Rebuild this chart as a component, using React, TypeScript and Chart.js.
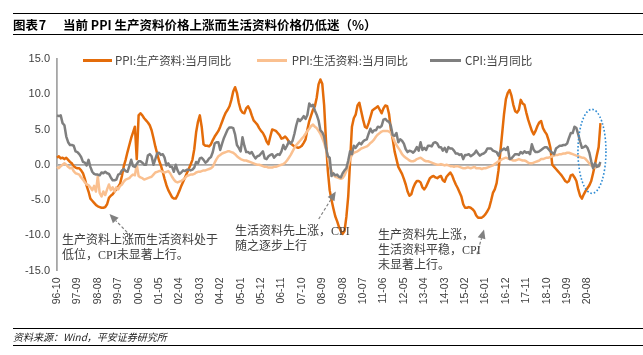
import React, { useEffect, useRef } from "react";
import { Chart, registerables } from "chart.js";

Chart.register(...registerables);

// Monthly data, 1996-10 .. 2021-03
const START_YEAR = 1996;
const START_MONTH = 10;

// PPI: 生产资料: 当月同比 (%)
const PPI_PRODUCER = [
  1.0, 1.2, 0.9,
  1.0, 0.8, 1.0, 0.7, 0.4, 0.2, -0.2, -0.4, -0.5, -0.5, -0.8, -1.2,
  -2.0, -3.0, -3.8, -4.8, -5.1, -5.4, -5.7, -5.9, -6.0, -6.1, -6.1, -6.0,
  -5.6, -4.7, -4.4, -4.2, -3.8, -3.5, -3.1, -2.7, -1.6, -0.2, 0.7, 1.8,
  2.8, 3.8, 4.6, 5.4, 0.8, 7.0, 7.3, 7.0, 6.6, 6.3, 6.0, 5.6,
  4.9, 3.8, 2.6, 1.6, 0.6, -0.1, -1.0, -2.0, -2.9, -3.6, -4.1, -4.6,
  -4.8, -4.8, -4.3, -3.7, -3.0, -2.4, -1.8, -1.2, -0.6, 0.0, 0.7, 2.2,
  4.6, 6.1, 7.0, 5.4, 2.9, 2.7, 2.7, 2.6, 2.9, 3.5, 4.0, 4.4,
  4.8, 5.4, 6.1, 6.8, 7.4, 7.8, 8.3, 9.2, 10.4, 11.0, 10.2, 8.8,
  7.8, 7.4, 7.3, 8.0, 8.3, 7.8, 7.0, 6.3, 6.0, 5.7, 5.2, 4.8,
  4.5, 4.0, 3.3, 2.9, 4.0, 5.0, 4.9, 4.8, 4.5, 4.2, 3.7, 3.8,
  4.0, 3.7, 3.3, 3.0, 2.8, 2.6, 2.5, 2.4, 2.5, 2.7, 3.1, 3.6,
  5.0, 6.2, 7.0, 7.8, 8.3, 9.5, 11.4, 12.1, 11.5, 8.5, 3.5, -0.8,
  -3.6, -5.0, -6.2, -7.3, -8.0, -8.8, -9.4, -9.8, -9.4, -7.4, -4.5, 0.5,
  5.4, 6.6, 7.1, 8.4, 8.8, 7.6, 6.4, 5.4, 5.2, 5.9, 6.8, 7.7,
  7.9, 8.1, 8.3, 7.8, 7.3, 8.0, 8.4, 8.3, 7.2, 5.0, 3.6, 1.9,
  0.8, -0.3, -0.8, -1.3, -2.0, -2.8, -3.8, -4.4, -4.2, -3.3, -2.7, -2.3,
  -2.3, -2.5, -3.2, -3.5, -3.1, -2.5, -1.9, -1.7, -1.6, -1.8, -1.9, -1.7,
  -1.6, -2.2, -2.4, -1.7, -1.4, -1.1, -1.5, -2.2, -2.8, -3.3, -3.9, -4.5,
  -5.6, -6.1, -6.1, -6.0, -6.1, -6.3, -6.6, -7.2, -7.5, -7.5, -7.5, -7.3,
  -7.0, -6.6, -6.1, -5.1, -4.0, -3.5, -2.6, -0.8, 1.8, 4.5, 7.2, 9.3,
  10.2, 10.6, 9.8, 8.5, 7.6, 7.4, 7.8, 9.2, 8.7, 8.5, 7.4, 6.4,
  5.6, 4.8, 4.3, 4.8, 5.5, 6.0, 6.2, 5.2, 4.7, 4.3, 3.5, 2.4,
  0.0, -0.3, -0.6, -0.9, -1.2, -1.5, -1.9, -2.3, -2.5, -2.3, -1.5, -1.4,
  -1.8, -2.3, -3.5, -4.4, -4.8, -4.2, -3.7, -3.3, -2.9, -2.3, -1.2, 0.0,
  1.3, 2.5, 5.9,
];

// PPI: 生活资料: 当月同比 (%)
const PPI_CONSUMER = [
  -0.3, -0.5, -0.2,
  0.0, 0.2, 0.0, -0.3, -0.5, -0.4, -0.9, -1.2, -1.3, -1.4, -1.8, -2.1,
  -2.5, -2.8, -2.9, -3.2, -3.6, -3.0, -3.8, -1.6, -4.0, -4.5, -3.8, -4.3,
  -3.5, -2.8, -3.6, -3.2, -3.8, -3.2, -3.5, -3.0, -2.8, -2.4, -2.1, -2.0,
  -1.9, -1.6, -1.4, -1.5, 0.0, -1.6, -1.8, -1.9, -2.1, -2.0, -1.9, -1.8,
  -1.7, -1.4, -1.1, -1.0, -0.9, -0.9, -1.0, -1.1, -1.0, -0.9, -1.2, -1.7,
  -2.1, -2.4, -2.5, -2.4, -2.3, -2.1, -1.9, -1.6, -1.5, -1.4, -1.4, -1.3,
  -1.1, -1.0, -1.0, -0.9, -0.8, -0.8, -0.7, -0.6, -0.5, -0.3, 0.3, 0.8,
  1.2, 1.4, 1.6, 1.7, 1.8, 1.9, 1.9, 1.8, 1.7, 1.5, 1.2, 1.0,
  0.8, 0.7, 0.6, 0.6, 0.5, 0.4, 0.3, 0.2, 0.1, 0.0, 0.0, -0.1,
  -0.2, -0.3, -0.3, -0.4, -0.4, -0.4, -0.3, -0.3, -0.2, -0.1, 0.0, 0.1,
  0.3, 0.6, 1.0, 1.4, 1.9, 2.4, 2.8, 3.1, 3.4, 3.7, 4.0, 4.4,
  4.8, 5.1, 5.5, 5.7, 5.4, 5.2, 4.8, 4.4, 3.8, 3.1, 2.2, 1.3,
  -0.2, -0.9, -1.4, -1.7, -1.8, -1.9, -2.0, -1.9, -1.5, -0.9, -0.1, 0.8,
  1.4, 1.7, 1.8, 1.9, 2.1, 2.3, 2.4, 2.5, 2.6, 2.8, 3.1, 3.3,
  3.6, 4.0, 4.3, 4.5, 4.7, 4.8, 4.8, 4.8, 4.7, 4.5, 4.0, 3.3,
  2.8, 2.4, 2.0, 1.5, 1.2, 1.0, 0.8, 0.6, 0.5, 0.5, 0.6, 0.8,
  0.9, 1.0, 0.8, 0.6, 0.5, 0.5, 0.4, 0.3, 0.2, 0.1, 0.0, 0.0,
  0.1, 0.0, -0.1, 0.0, -0.1, -0.2, -0.2, -0.3, -0.2, -0.2, -0.3, -0.4,
  -0.5, -0.5, -0.4, -0.4, -0.5, -0.4, -0.3, -0.5, -0.5, -0.5, -0.6, -0.5,
  -0.5, -0.4, -0.3, -0.2, -0.1, 0.1, 0.3, 0.5, 0.6, 0.8, 0.9, 1.0,
  0.9, 0.8, 0.7, 0.6, 0.6, 0.7, 0.8, 0.7, 0.6, 0.6, 0.5, 0.3,
  0.2, 0.2, 0.3, 0.4, 0.5, 0.6, 0.8, 0.8, 0.9, 1.0, 1.0, 1.1,
  1.2, 1.3, 1.4, 1.4, 1.5, 1.5, 1.6, 1.6, 1.7, 1.7, 1.6, 1.5,
  1.4, 1.3, 1.2, 1.1, 1.0, 1.0, 0.8, 0.5, 0.2, -0.1, -0.3, -0.4,
  -0.3, -0.2, 0.0,
];

// CPI: 当月同比 (%)
const CPI_YOY = [
  7.0, 6.9, 7.0,
  5.9, 5.6, 4.0, 3.2, 2.8, 2.8, 2.7, 1.9, 1.8, 1.5, 1.1, 0.4,
  0.3, -0.1, 0.7, -0.3, -1.0, -1.3, -1.4, -1.4, -1.5, -1.1, -1.2, -1.0,
  -1.2, -1.3, -1.8, -2.2, -2.2, -2.1, -1.4, -1.3, -0.8, -0.6, -0.9, -1.0,
  -0.2, 0.7, -0.2, -0.3, 0.1, 0.5, 0.5, 0.3, 0.0, 0.0, 1.3, 1.5,
  1.2, 0.0, 0.8, 1.6, 1.7, 1.4, 1.5, 1.0, -0.1, 0.2, -0.3, -0.3,
  -1.0, 0.0, -0.8, -1.3, -1.1, -0.8, -0.9, -0.7, -0.7, -0.8, -0.7, -0.4,
  0.4, 0.2, 0.9, 1.0, 0.7, 0.3, 0.5, 0.9, 1.1, 1.8, 3.0, 3.2,
  3.2, 2.1, 3.0, 3.8, 4.4, 5.0, 5.3, 5.3, 5.2, 4.3, 2.8, 2.4,
  1.9, 3.9, 2.7, 1.8, 1.8, 1.6, 1.8, 1.3, 0.9, 1.2, 1.3, 1.6,
  1.9, 0.9, 0.8, 1.2, 1.4, 1.5, 1.0, 1.3, 1.5, 1.4, 1.9, 2.8,
  2.2, 2.7, 3.3, 3.0, 3.4, 4.4, 5.6, 6.5, 6.2, 6.5, 6.9, 6.5,
  7.1, 8.7, 8.3, 8.5, 7.7, 7.1, 6.3, 4.9, 4.6, 4.0, 2.4, 1.2,
  1.0, -1.6, -1.2, -1.5, -1.4, -1.7, -1.8, -1.2, -0.8, -0.5, 0.6, 1.9,
  1.5, 2.7, 2.4, 2.8, 3.1, 2.9, 3.3, 3.5, 3.6, 4.4, 5.1, 4.6,
  4.9, 4.9, 5.4, 5.3, 5.5, 6.4, 6.5, 6.2, 6.1, 5.5, 4.2, 4.1,
  4.5, 3.2, 3.6, 3.4, 3.0, 2.2, 1.8, 2.0, 1.9, 1.7, 2.0, 2.5,
  2.0, 3.2, 2.1, 2.4, 2.1, 2.7, 2.7, 2.6, 3.1, 3.2, 3.0, 2.5,
  2.5, 2.0, 2.4, 1.8, 2.5, 2.3, 2.3, 2.0, 1.6, 1.6, 1.4, 1.5,
  0.8, 1.4, 1.4, 1.5, 1.2, 1.4, 1.6, 2.0, 1.6, 1.3, 1.5, 1.6,
  1.8, 2.3, 2.3, 2.3, 2.0, 1.9, 1.8, 1.3, 1.9, 2.1, 2.3, 2.1,
  2.5, 0.8, 0.9, 1.2, 1.5, 1.5, 1.4, 1.8, 1.6, 1.9, 1.7, 1.8,
  1.5, 2.9, 2.1, 1.8, 1.8, 1.9, 2.1, 2.3, 2.5, 2.5, 2.2, 1.9,
  1.7, 1.5, 2.3, 2.5, 2.7, 2.7, 2.8, 2.8, 3.0, 3.8, 4.5, 4.5,
  5.4, 5.2, 4.3, 3.3, 2.4, 2.5, 2.7, 2.4, 1.7, 0.5, -0.5, 0.2,
  -0.3, -0.2, 0.4,
];

const TICK_LABELS = [
  "96-10", "97-09", "98-08", "99-07", "00-06", "01-05", "02-04", "03-03",
  "04-02", "05-01", "05-12", "06-11", "07-10", "08-09", "09-08", "10-07",
  "11-06", "12-05", "13-04", "14-03", "15-02", "16-01", "16-12", "17-11",
  "18-10", "19-09", "20-08",
];

const SERIES_NAMES = ["PPI:生产资料:当月同比", "PPI:生活资料:当月同比", "CPI:当月同比"];

const CATEGORIES = CPI_YOY.map((_, i) => {
  const m = START_MONTH - 1 + i;
  const y = START_YEAR + Math.floor(m / 12);
  const mm = (m % 12) + 1;
  return `${String(y % 100).padStart(2, "0")}-${String(mm).padStart(2, "0")}`;
});
const TICK_SET = new Set(TICK_LABELS);

// Annotation anchors in data space: [category index, value]
const ARROWS = [
  { from: [39.7, -10.1], to: [28.3, -7.0] },
  { from: [141.1, -7.7], to: [150.3, -3.8] },
  { from: [226.4, -12.7], to: [230.2, -9.2] },
];
const HIGHLIGHT = { center: [288.4, 1.9], rx: 14, ry: 42 };

const ORANGE = "#E46C0A";
const PEACH = "#FAC090";
const GRAY = "#7F7F7F";
const AXIS_GRAY = "#A6A6A6";
const TEXT = "#404040";

const annotationPlugin = {
  id: "notes",
  afterDatasetsDraw(chart: any) {
    const { ctx, scales } = chart;
    const xs = scales.x;
    const ys = scales.y;
    ctx.save();
    ctx.strokeStyle = "#808080";
    ctx.fillStyle = "#808080";
    ctx.lineWidth = 1.2;
    for (const a of ARROWS) {
      const x1 = xs.getPixelForValue(a.from[0]);
      const y1 = ys.getPixelForValue(a.from[1]);
      const x2 = xs.getPixelForValue(a.to[0]);
      const y2 = ys.getPixelForValue(a.to[1]);
      const ang = Math.atan2(y2 - y1, x2 - x1);
      const headLen = 9;
      const bx = x2 - headLen * Math.cos(ang);
      const by = y2 - headLen * Math.sin(ang);
      ctx.setLineDash([3, 2]);
      ctx.beginPath();
      ctx.moveTo(x1, y1);
      ctx.lineTo(bx, by);
      ctx.stroke();
      ctx.setLineDash([]);
      ctx.beginPath();
      ctx.moveTo(x2, y2);
      ctx.lineTo(bx + 4 * Math.sin(ang), by - 4 * Math.cos(ang));
      ctx.lineTo(bx - 4 * Math.sin(ang), by + 4 * Math.cos(ang));
      ctx.closePath();
      ctx.fill();
    }
    const cx = xs.getPixelForValue(HIGHLIGHT.center[0]);
    const cy = ys.getPixelForValue(HIGHLIGHT.center[1]);
    ctx.strokeStyle = "#2E8BD3";
    ctx.lineWidth = 1.6;
    ctx.setLineDash([1.6, 2]);
    ctx.beginPath();
    ctx.ellipse(cx, cy, HIGHLIGHT.rx, HIGHLIGHT.ry, 0, 0, Math.PI * 2);
    ctx.stroke();
    ctx.restore();
  },
};

const W = 643;
const H = 355;

export default function App() {
  const ref = useRef<HTMLCanvasElement | null>(null);

  useEffect(() => {
    if (!ref.current) return;
    const mk = (label: string, data: number[], color: string, order: number) => ({
      label,
      data,
      borderColor: color,
      backgroundColor: color,
      borderWidth: 2.5,
      pointRadius: 0,
      tension: 0,
      fill: false,
      order,
      borderJoinStyle: "round" as const,
    });
    const chart = new Chart(ref.current, {
      type: "line",
      data: {
        labels: CATEGORIES,
        datasets: [
          mk(SERIES_NAMES[0], PPI_PRODUCER, ORANGE, 2),
          mk(SERIES_NAMES[1], PPI_CONSUMER, PEACH, 1),
          mk(SERIES_NAMES[2], CPI_YOY, GRAY, 0),
        ],
      },
      options: {
        animation: false,
        responsive: false,
        maintainAspectRatio: false,
        layout: { padding: { left: 0, right: 42.5, top: 59, bottom: 0 } },
        plugins: { legend: { display: false }, tooltip: { enabled: false }, title: { display: false } },
        scales: {
          x: {
            type: "category",
            offset: false,
            grid: { display: false, drawTicks: false },
            border: { display: false },
            ticks: {
              autoSkip: false,
              maxRotation: 90,
              minRotation: 90,
              padding: 7,
              color: TEXT,
              font: { family: "'Liberation Sans', Arial, sans-serif", size: 10.5 },
              callback: (_v: any, i: number) => (TICK_SET.has(CATEGORIES[i]) ? CATEGORIES[i] : ""),
            },
            afterFit: (s: any) => {
              s.height = H - 270.5;
            },
          },
          y: {
            min: -15,
            max: 15,
            ticks: {
              stepSize: 5,
              padding: 7,
              color: TEXT,
              font: { family: "'Liberation Sans', Arial, sans-serif", size: 11 },
              callback: (v: any) => Number(v).toFixed(1),
            },
            grid: {
              drawTicks: false,
              color: (c: any) => (c.tick && c.tick.value === 0 ? AXIS_GRAY : "rgba(0,0,0,0)"),
              lineWidth: (c: any) => (c.tick && c.tick.value === 0 ? 1.8 : 0),
            },
            border: { display: true, color: AXIS_GRAY, width: 1.8 },
            afterFit: (s: any) => {
              s.width = 57;
            },
          },
        },
      },
      plugins: [annotationPlugin],
    });
    return () => chart.destroy();
  }, []);

  const cjk = "'Noto Sans CJK SC', 'Noto Sans', sans-serif";
  const note = "'Liberation Serif', 'Noto Sans CJK SC', serif";
  const abs = (o: React.CSSProperties): React.CSSProperties => ({ position: "absolute", ...o });
  const legendItems = [
    { line: 82.7, w: 29, text: 115, color: ORANGE, label: SERIES_NAMES[0] },
    { line: 256.7, w: 30, text: 291.7, color: PEACH, label: SERIES_NAMES[1] },
    { line: 430, w: 31, text: 465, color: GRAY, label: SERIES_NAMES[2] },
  ];

  return (
    <div style={{ position: "relative", width: W, height: H, background: "#fff", overflow: "hidden" }}>
      <style>{`body{margin:0;background:#fff}`}</style>
      <canvas ref={ref} width={W} height={H} style={abs({ left: 0, top: 0, width: W, height: H })} />

      <div style={abs({ left: 12.7, top: 12.5, width: W - 12.7, height: 1.5, background: "#000" })} />
      <div style={abs({ left: 13, top: 17, lineHeight: "16px", fontFamily: cjk, fontWeight: 700, fontSize: 12.5, color: "#000", whiteSpace: "nowrap", wordSpacing: -2 })}>
        图表 7
      </div>
      <div style={abs({ left: 63, top: 17, lineHeight: "16px", fontFamily: cjk, fontWeight: 700, fontSize: 12.5, color: "#000", whiteSpace: "nowrap" })}>
        当前 PPI 生产资料价格上涨而生活资料价格仍低迷（%）
      </div>
      <div style={abs({ left: 12.7, top: 33.5, width: W - 12.7, height: 1, background: "#000" })} />

      {legendItems.map((it) => (
        <React.Fragment key={it.label}>
          <div style={abs({ left: it.line, top: 58.5, width: it.w, height: 3, background: it.color })} />
          <div style={abs({ left: it.text, top: 52, lineHeight: "16px", fontFamily: cjk, fontSize: 11.5, color: TEXT, whiteSpace: "nowrap" })}>
            {it.label}
          </div>
        </React.Fragment>
      ))}

      <div style={abs({ left: 62, top: 233, lineHeight: "15px", fontFamily: note, fontSize: 12, color: TEXT, whiteSpace: "nowrap" })}>
        生产资料上涨而生活资料处于
        <br />
        低位，CPI未显著上行。
      </div>
      <div style={abs({ left: 235, top: 223.5, lineHeight: "15px", fontFamily: note, fontSize: 12, color: TEXT, whiteSpace: "nowrap" })}>
        生活资料先上涨，CPI
        <br />
        随之逐步上行
      </div>
      <div style={abs({ left: 378, top: 227.5, lineHeight: "15px", fontFamily: note, fontSize: 12, color: TEXT, whiteSpace: "nowrap" })}>
        生产资料先上涨，
        <br />
        生活资料平稳，CPI
        <br />
        未显著上行。
      </div>

      <div style={abs({ left: 12.7, top: 328, width: W - 12.7, height: 1, background: "#000" })} />
      <div style={abs({ left: 13, top: 330, lineHeight: "14px", fontFamily: cjk, fontStyle: "italic", fontSize: 10, color: "#222", whiteSpace: "nowrap" })}>
        资料来源：Wind，平安证券研究所
      </div>
      <div style={abs({ left: 12.7, top: 344.5, width: W - 12.7, height: 1, background: "#000" })} />
    </div>
  );
}
